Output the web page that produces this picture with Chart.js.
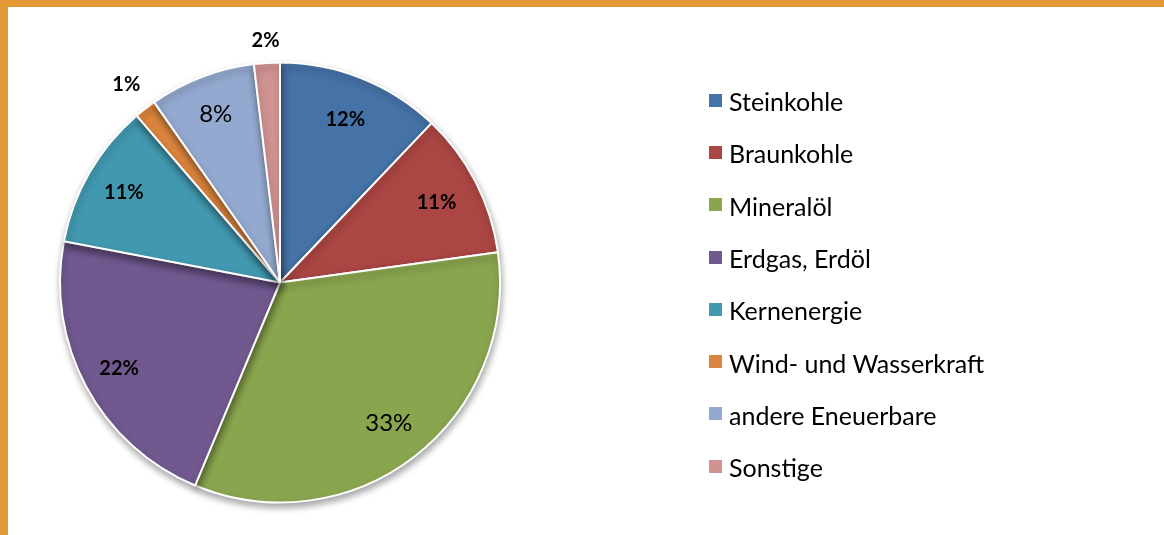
<!DOCTYPE html>
<html>
<head>
<meta charset="utf-8">
<script src="https://cdn.jsdelivr.net/npm/chart.js@4.4.0/dist/chart.umd.min.js"></script>
<style>
  html, body { margin: 0; padding: 0; background: #fff; }
  #frame {
    position: relative; width: 1164px; height: 535px; box-sizing: border-box;
    border-top: 7px solid #E39A35; border-left: 8px solid #E39A35; background: #fff;
  }
  #pie { position: absolute; left: -8px; top: -7px; }
  #legend { position: absolute; left: 701px; top: 68px; font-family: Lato, "Open Sans", sans-serif; font-size: 25px; color: #000; }
  #legend .item { height: 52.3px; display: flex; align-items: center; }
  #legend .box { width: 13px; height: 13px; margin-right: 7px; margin-top: -2px; }
</style>
</head>
<body>
<div id="frame">
  <canvas id="pie" width="1164" height="535"></canvas>
  <div id="legend"></div>
</div>
<script>
let categories = ["Steinkohle", "Braunkohle", "Mineralöl", "Erdgas, Erdöl", "Kernenergie", "Wind- und Wasserkraft", "andere Eneuerbare", "Sonstige"];
let shares = [12.1, 10.7, 33.5, 21.7, 10.7, 1.6, 7.8, 1.9];
let shareLabels = ["12%", "11%", "33%", "22%", "11%", "1%", "8%", "2%"];
let colors = ["#4572A7", "#AA4643", "#89A54E", "#71588F", "#4198AF", "#DB843D", "#93A9CF", "#D19392"];

// label placement: factor of radius, and font style per slice
let labelDist = [0.8, 0.8, 0.81, 0.83, 0.82, 1.14, 0.82, 1.1];
let labelBold = [true, true, false, true, true, true, false, true];

const shadowPlugin = {
  id: 'shadow',
  beforeDatasetsDraw(chart) {
    const ctx = chart.ctx;
    ctx.save();
    ctx.shadowColor = 'rgba(0,0,0,0.35)';
    ctx.shadowBlur = 7;
    ctx.shadowOffsetX = 1;
    ctx.shadowOffsetY = 4;
  },
  afterDatasetsDraw(chart) {
    chart.ctx.restore();
  }
};

const pctLabels = {
  id: 'pctLabels',
  afterDraw(chart) {
    const ctx = chart.ctx;
    const arcs = chart.getDatasetMeta(0).data;
    ctx.save();
    ctx.fillStyle = '#000';
    ctx.textAlign = 'center';
    ctx.textBaseline = 'middle';
    arcs.forEach((arc, i) => {
      const mid = (arc.startAngle + arc.endAngle) / 2;
      const r = arc.outerRadius * labelDist[i];
      const x = arc.x + Math.cos(mid) * r;
      const y = arc.y + Math.sin(mid) * r;
      ctx.font = labelBold[i] ? 'bold 20px Lato, "Open Sans", sans-serif' : '24px Lato, "Open Sans", sans-serif';
      ctx.fillText(shareLabels[i], x, y);
    });
    ctx.restore();
  }
};

let pieCtx = document.getElementById('pie');
let pieChart = new Chart(pieCtx, {
  type: 'pie',
  data: {
    labels: categories,
    datasets: [{
      data: shares,
      backgroundColor: colors,
      borderColor: '#fff',
      borderWidth: 2
    }]
  },
  options: {
    responsive: false,
    animation: false,
    layout: { padding: { left: 58.5, top: 61.5, right: 662.5, bottom: 31.5 } },
    plugins: {
      legend: { display: false },
      tooltip: { enabled: false }
    }
  },
  plugins: [shadowPlugin, pctLabels]
});

// html legend from the chart's own legend items
let legendEl = document.getElementById('legend');
pieChart.options.plugins.legend.labels.generateLabels(pieChart).forEach(item => {
  let row = document.createElement('div');
  row.className = 'item';
  row.innerHTML = '<span class="box" style="background:' + item.fillStyle + '"></span>' + item.text;
  legendEl.appendChild(row);
});
</script>
</body>
</html>
